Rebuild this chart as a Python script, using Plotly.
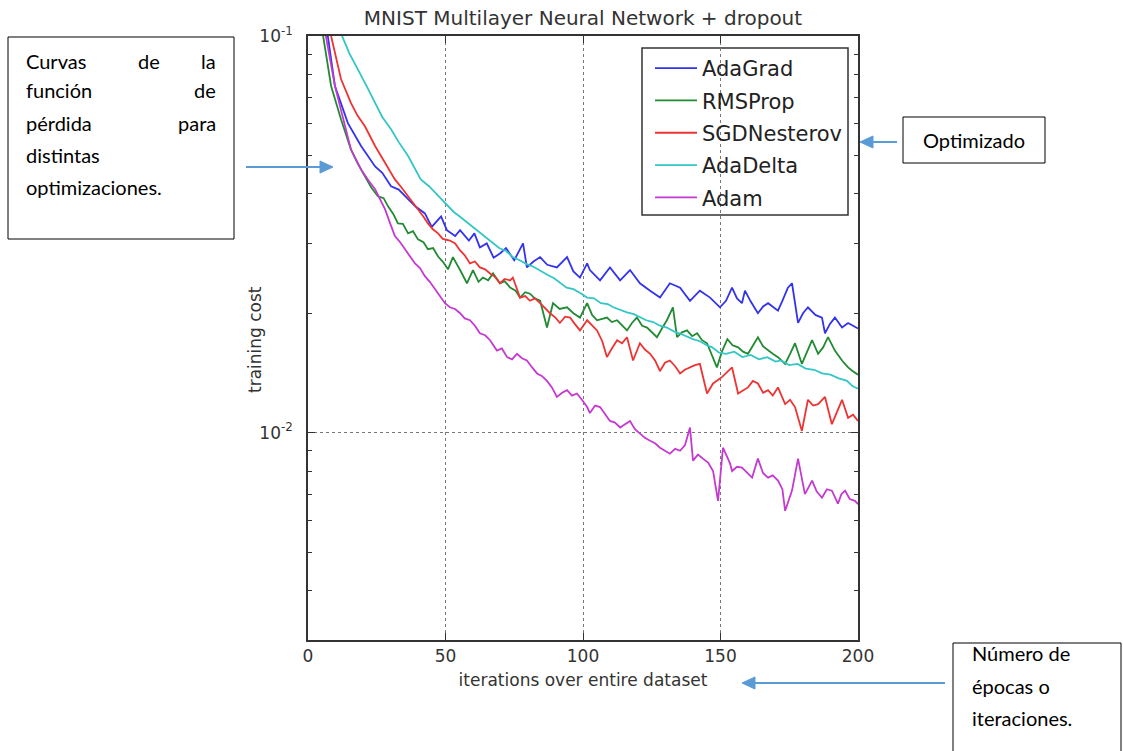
import plotly.graph_objects as go

# ---- data: (iteration, training cost) ----
ADAGRAD = [(1,0.2),(7.3,0.1),(9.8,0.0748),(14.5,0.0603),(19.3,0.0528),(24.4,0.0469),(27,0.0452),(30.2,0.0418),(33,0.0410),(36.4,0.0388),(39,0.0372),(42.5,0.0357),(45,0.0330),(48.4,0.0351),(50.5,0.0324),(53.5,0.0313),(55.3,0.0324),(58.5,0.0305),(60.5,0.0318),(62.5,0.0293),(65,0.0300),(67.5,0.0276),(69.8,0.0283),(72,0.0292),(75,0.0272),(78.2,0.0300),(79.6,0.0261),(82,0.0270),(84.4,0.0277),(87,0.0265),(90.5,0.0261),(94.2,0.0277),(96.5,0.0255),(98.9,0.0246),(101.5,0.0267),(102.5,0.0257),(106.2,0.0242),(109.8,0.0261),(113.5,0.0242),(117.1,0.0257),(120.7,0.0238),(124.4,0.0228),(128,0.0219),(131.6,0.0238),(135.3,0.0232),(138.9,0.0215),(142.5,0.0228),(146.2,0.0219),(149.8,0.0207),(152,0.0215),(154.2,0.0232),(156,0.0218),(157.8,0.0212),(158.9,0.0228),(161,0.0214),(163.6,0.0200),(165.5,0.0208),(167.3,0.0212),(170.9,0.0203),(172.5,0.0215),(174.5,0.0232),(176,0.0238),(178.2,0.0189),(180,0.0200),(181.8,0.0207),(184.5,0.0198),(186.9,0.0195),(188,0.0178),(189.8,0.0188),(191.6,0.0195),(194.2,0.0184),(196.4,0.0189),(198,0.0186),(200,0.0183)]

RMSPROP = [(1,0.17),(5.5,0.1),(8.4,0.0748),(12,0.0617),(15.6,0.0518),(18,0.0478),(20.7,0.0443),(23,0.0415),(25.5,0.0394),(27.5,0.0390),(29.1,0.0372),(31,0.0356),(32.7,0.0337),(34.5,0.0336),(36.4,0.0318),(38.2,0.0322),(40,0.0307),(42,0.0302),(43.6,0.0290),(45.5,0.0292),(47.3,0.0278),(49,0.0270),(50.9,0.0258),(52.7,0.0277),(55.3,0.0257),(57.8,0.0238),(60,0.0257),(62,0.0240),(63.6,0.0246),(65.5,0.0242),(67.3,0.0252),(69.8,0.0238),(71.5,0.0241),(73.5,0.0232),(75.5,0.0228),(77.1,0.0219),(79,0.0226),(80.7,0.0224),(82.5,0.0218),(84.4,0.0215),(86.9,0.0184),(89.1,0.0212),(91.5,0.0205),(94.2,0.0207),(96.5,0.0200),(98.9,0.0195),(101.5,0.0212),(103.3,0.0198),(105.1,0.0192),(108.7,0.0195),(110.5,0.0190),(112.4,0.0192),(116,0.0181),(117.8,0.0189),(119.6,0.0195),(121.5,0.0186),(123.3,0.0184),(125,0.0179),(126.9,0.0174),(128.7,0.0183),(130.5,0.0192),(132.7,0.0207),(134.2,0.0174),(136,0.0179),(137.8,0.0181),(139.7,0.0175),(141.5,0.0178),(143.3,0.0171),(145.1,0.0168),(148.7,0.0146),(150.5,0.0160),(152.5,0.0172),(154.4,0.0166),(156.4,0.0164),(158.2,0.0160),(160,0.0158),(161.8,0.0166),(163.6,0.0174),(165.5,0.0165),(167.3,0.0161),(169,0.0158),(170.9,0.0155),(173.5,0.0149),(175.3,0.0158),(177.1,0.0168),(179.6,0.0149),(181.5,0.0160),(183.3,0.0171),(185.5,0.0158),(187.3,0.0164),(189.1,0.0174),(191.6,0.0161),(194.2,0.0152),(196.4,0.0146),(198,0.0143),(200,0.0140)]

SGDNESTEROV = [(1,0.22),(8.4,0.1),(12,0.0779),(15.6,0.0678),(18,0.0630),(20.7,0.0592),(24.4,0.0528),(26,0.0505),(28,0.0478),(31.6,0.0435),(34,0.0415),(36.4,0.0395),(38,0.0380),(40,0.0366),(42,0.0350),(43.6,0.0337),(45.5,0.0325),(47.3,0.0318),(49,0.0308),(51.6,0.0305),(53.5,0.0300),(55.3,0.0288),(57,0.0280),(58.9,0.0267),(60.7,0.0270),(62.5,0.0261),(64.4,0.0258),(66.2,0.0252),(68,0.0247),(69.8,0.0238),(71.5,0.0244),(73.5,0.0242),(74.5,0.0246),(77.1,0.0219),(79,0.0221),(80.7,0.0215),(82.5,0.0218),(84.4,0.0212),(86.2,0.0206),(88,0.0200),(90,0.0195),(91.6,0.0189),(93.5,0.0196),(95.3,0.0195),(97,0.0188),(98.9,0.0181),(101.5,0.0192),(103.3,0.0186),(105.1,0.0181),(107,0.0170),(108.7,0.0155),(110.5,0.0163),(112.4,0.0171),(114.2,0.0168),(116,0.0174),(118.2,0.0152),(120.7,0.0168),(122.5,0.0162),(124.4,0.0158),(126.2,0.0152),(128,0.0143),(129.8,0.0150),(131.6,0.0152),(133.5,0.0147),(135.3,0.0141),(137,0.0144),(138.9,0.0146),(140.7,0.0148),(142.5,0.0149),(145.1,0.01255),(147.3,0.0133),(150.5,0.0138),(152.4,0.0142),(154.2,0.0146),(156.4,0.01255),(158.2,0.0128),(160,0.0130),(161.8,0.0135),(163.6,0.0133),(165.5,0.0126),(167.3,0.0128),(169,0.0124),(170.9,0.0130),(173.5,0.0118),(175.3,0.0121),(177.1,0.0116),(179.6,0.0101),(181.8,0.0121),(183.7,0.0117),(185.5,0.0118),(188,0.0123),(190.5,0.0105),(192.4,0.0113),(194.2,0.0121),(196.4,0.0109),(198.2,0.0111),(200,0.0107)]

ADADELTA = [(1,0.24),(12.4,0.1),(15,0.0905),(18.2,0.0825),(21,0.0755),(24.4,0.0678),(27,0.0625),(30.2,0.0582),(33,0.0540),(36.4,0.0498),(38.5,0.0470),(41,0.0435),(44,0.0418),(47.3,0.0395),(49,0.0385),(51,0.0372),(53,0.0360),(55.3,0.0350),(58,0.0338),(60,0.0330),(62.5,0.0318),(65,0.0308),(67,0.0300),(69.5,0.0292),(72,0.0287),(74.5,0.0277),(77,0.0272),(79.5,0.0266),(82,0.0262),(84.4,0.0256),(87,0.0250),(89.5,0.0245),(92,0.0238),(94,0.0232),(96.5,0.0230),(99,0.0225),(101.5,0.0219),(104,0.0218),(106.5,0.0212),(109,0.0211),(111,0.0207),(113.5,0.0204),(116,0.0201),(118.5,0.0199),(121,0.0195),(123,0.0192),(125.5,0.0190),(128,0.0186),(130.5,0.0184),(133,0.0180),(135,0.0178),(137.5,0.0175),(140,0.0172),(142.5,0.0170),(145,0.0166),(147,0.0164),(149.5,0.0159),(152,0.0158),(155,0.0160),(158,0.0155),(161,0.0157),(164,0.0153),(167,0.0155),(170,0.0151),(172,0.0152),(175,0.0148),(178,0.0149),(181,0.0145),(184,0.0144),(187,0.0141),(190,0.0140),(193,0.0137),(196,0.0135),(198,0.0131),(200,0.0129)]

ADAM = [(1,0.19),(6.5,0.1),(9.8,0.0748),(13.5,0.0592),(15.6,0.0518),(17.5,0.0488),(19.3,0.0461),(22,0.0432),(24.4,0.0411),(26,0.0390),(28,0.0366),(30,0.0335),(31.6,0.0313),(33.5,0.0302),(35.3,0.0290),(37,0.0280),(38.9,0.0267),(40.7,0.0260),(42.5,0.0248),(44.3,0.0240),(46.2,0.0230),(48,0.0222),(49.8,0.0212),(51.6,0.0207),(53.5,0.0205),(55.3,0.0200),(57,0.0194),(58.9,0.0192),(60.7,0.0186),(62.5,0.0178),(64.4,0.0176),(66.2,0.0171),(68.7,0.0161),(70.5,0.0163),(72.4,0.0155),(74.2,0.0153),(76,0.0158),(77.8,0.0154),(79.6,0.0152),(81.5,0.0146),(83.3,0.0141),(85,0.0139),(86.9,0.0135),(88.7,0.0130),(90.5,0.0123),(92.4,0.0126),(94.2,0.0128),(96,0.0124),(97.8,0.01255),(99.6,0.0121),(101.5,0.0116),(102.5,0.0112),(104.4,0.0117),(106.2,0.0116),(108,0.0111),(109.8,0.0107),(111.6,0.0106),(113.5,0.0103),(115.3,0.0105),(117.1,0.0107),(118.9,0.0102),(120.7,0.00994),(122.5,0.0097),(124.4,0.00954),(126.2,0.0094),(128,0.00916),(129.8,0.0090),(131.6,0.00885),(133.5,0.0091),(135.3,0.0090),(137.1,0.0093),(138.9,0.0103),(140,0.0085),(141.8,0.0088),(143.6,0.0086),(145.5,0.0084),(147.3,0.0080),(149.1,0.00673),(150.9,0.00916),(152.5,0.0086),(153.5,0.00835),(154.2,0.0080),(156,0.0082),(157.8,0.00816),(159.7,0.0079),(161.5,0.0077),(163.6,0.0086),(165.5,0.0079),(167.3,0.0077),(169,0.0078),(170.9,0.00757),(172.5,0.0072),(173.5,0.00635),(176,0.00714),(178.2,0.0086),(180.7,0.0070),(183.3,0.00757),(185,0.0071),(186.9,0.00685),(188.7,0.0072),(190.5,0.00714),(192.7,0.00662),(194,0.0070),(195.3,0.00714),(197,0.0068),(198.9,0.00673),(200,0.0066)]

SERIES_NAMES = ["AdaGrad", "RMSProp", "SGDNesterov", "AdaDelta", "Adam"]
SERIES_DATA = [ADAGRAD, RMSPROP, SGDNESTEROV, ADADELTA, ADAM]
SERIES_COLORS = ["#3333ee", "#228a33", "#ee3333", "#33c6c6", "#c43ad0"]

X_TICKS = [0, 50, 100, 150, 200]
Y_TICKS = [0.01, 0.1]
Y_TICK_TEXT = ["10<sup>-2</sup>", "10<sup>-1</sup>"]
Y_MINOR = [0.003, 0.004, 0.005, 0.006, 0.007, 0.008, 0.009,
           0.02, 0.03, 0.04, 0.05, 0.06, 0.07, 0.08, 0.09]

# ---- geometry helpers (page pixel -> paper) ----
L, R, T, B = 308, 858, 36, 640
W, H = 1123, 751
def px(x):
    return (x - L) / (R - L)
def py(y):
    return (B - y) / (B - T)

fig = go.Figure()
for name, data, col in zip(SERIES_NAMES, SERIES_DATA, SERIES_COLORS):
    fig.add_trace(go.Scatter(
        x=[p[0] for p in data], y=[p[1] for p in data],
        mode="lines", name=name, legendgroup=name,
        line=dict(color=col, width=1.8),
    ))

axis_font = dict(family="DejaVu Sans", size=17, color="#333333")

fig.update_layout(
    width=W, height=H, autosize=False,
    margin=dict(l=L, r=W - R, t=T, b=H - B),
    paper_bgcolor="white", plot_bgcolor="white",
    title=dict(text="MNIST Multilayer Neural Network + dropout",
               x=0.5, xref="paper", xanchor="center",
               y=1 - 18 / H, yref="container", yanchor="middle",
               font=dict(family="DejaVu Sans", size=20, color="#333333")),
    showlegend=True,
    legend=dict(x=px(650), y=py(48), xanchor="left", yanchor="top",
                bgcolor="rgba(0,0,0,0)", borderwidth=0,
                font=dict(family="DejaVu Sans", size=21, color="#222222"),
                tracegroupgap=2, itemwidth=42),
    xaxis=dict(range=[0, 200], tickvals=X_TICKS, ticks="inside", ticklen=7,
               tickcolor="#333333", showline=True, linecolor="#333333", linewidth=1.5,
               mirror="ticks", showgrid=True, gridcolor="#777777", griddash="dot",
               gridwidth=1, zeroline=False, tickfont=axis_font, ticklabelstandoff=0,
               title=dict(text="iterations over entire dataset", font=axis_font, standoff=9)),
    yaxis=dict(type="log", range=[-2.5229, -1], tickvals=Y_TICKS, ticktext=Y_TICK_TEXT,
               ticks="inside", ticklen=7, tickcolor="#333333",
               showline=True, linecolor="#333333", linewidth=1.5, mirror="ticks",
               showgrid=True, gridcolor="#777777", griddash="dot", gridwidth=1,
               zeroline=False, tickfont=axis_font, ticklabelstandoff=10,
               minor=dict(tickvals=Y_MINOR, ticks="inside", ticklen=4, tickcolor="#333333",
                          showgrid=False)),
)

# y-axis label placed as rotated text
fig.add_annotation(text="training cost", x=px(255), y=py(340), xref="paper", yref="paper",
                   textangle=-90, showarrow=False, xanchor="center", yanchor="middle",
                   font=axis_font)

shapes = []
# legend frame
shapes.append(dict(type="rect", xref="paper", yref="paper", layer="below",
                   x0=px(642), x1=px(848), y0=py(215), y1=py(48),
                   line=dict(color="#333333", width=1.5), fillcolor="white"))
# annotation boxes
for (x0, y0, x1, y1) in [(8, 37, 234, 239), (903, 117, 1045, 163), (953, 643, 1121, 760)]:
    shapes.append(dict(type="rect", xref="paper", yref="paper",
                       x0=px(x0), x1=px(x1), y0=py(y1), y1=py(y0),
                       line=dict(color="black", width=1), fillcolor="rgba(0,0,0,0)"))
# blue arrows (shaft + head), given as tail x, tip x, y in page pixels
arrow_col = "#5B9BD5"
for (tail, tip, y) in [(246, 333, 167), (897, 860, 142), (945, 742, 683)]:
    d = 1 if tip > tail else -1
    base = tip - d * 13
    shapes.append(dict(type="line", xref="paper", yref="paper",
                       x0=px(tail), x1=px(base), y0=py(y), y1=py(y),
                       line=dict(color=arrow_col, width=2)))
    path = "M {} {} L {} {} L {} {} Z".format(px(tip), py(y), px(base), py(y - 6),
                                              px(base), py(y + 6))
    shapes.append(dict(type="path", xref="paper", yref="paper", path=path,
                       fillcolor=arrow_col, line=dict(color=arrow_col, width=1)))
fig.update_layout(shapes=shapes)

note_font = dict(family="Lato", size=20, color="black")
def note(text, x, y, anchor="left"):
    fig.add_annotation(text=text, x=px(x), y=py(y), xref="paper", yref="paper",
                       xanchor=anchor, yanchor="middle", showarrow=False, font=note_font)

# left box (justified text)
note("Curvas", 24, 61); note("de", 149, 61, "center"); note("la", 218, 61, "right")
note("función", 24, 90); note("de", 218, 90, "right")
note("pérdida", 24, 123); note("para", 218, 123, "right")
note("distintas", 24, 155)
note("optimizaciones.", 24, 187)
# right boxes
note("Optimizado", 974, 140, "center")
note("Número de", 970, 653)
note("épocas o", 970, 686)
note("iteraciones.", 970, 718)

fig.write_html("out.html", config={"displayModeBar": False},
               post_script="document.body.style.margin='0';document.body.style.overflow='hidden';")
